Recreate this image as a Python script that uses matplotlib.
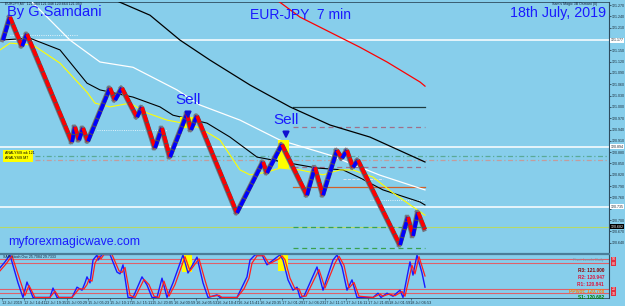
import matplotlib
matplotlib.use("Agg")
import matplotlib.pyplot as plt
from matplotlib.lines import Line2D
from matplotlib.patches import Rectangle
import numpy as np

plt.rcParams['font.family'] = ['Liberation Sans', 'DejaVu Sans']

BG = '#87ceeb'
TXT = '#1a1aff'

# swing points of the price path (bar, price)
swing_bar = [3, 10, 22, 27, 72, 75, 79, 83, 88, 110, 115, 122, 137, 142, 155, 162, 170,
             187, 191, 197, 237, 263, 267, 282, 307, 315, 323, 337, 342, 347, 353, 358,
             400, 408, 413, 418, 425]
swing_price = [121.177, 121.238, 121.161, 121.193, 120.907, 120.947, 120.912, 120.944,
               120.909, 121.050, 121.018, 121.050, 120.973, 120.999, 120.891, 120.944,
               120.867, 120.981, 120.939, 120.976, 120.719, 120.854, 120.825, 120.900,
               120.766, 120.840, 120.766, 120.885, 120.864, 120.885, 120.840, 120.859,
               120.634, 120.708, 120.658, 120.721, 120.675]

# moving averages
ma_red_bar = [268, 277, 300, 330, 360, 387, 420, 425]
ma_red = [121.296, 121.283, 121.238, 121.198, 121.158, 121.119, 121.066, 121.055]
ma_slow_bar = [105, 115, 150, 180, 210, 250, 290, 330, 370, 425]
ma_slow = [121.296, 121.283, 121.243, 121.177, 121.124, 121.058, 121.000, 120.952, 120.920, 120.854]
ma_white_bar = [30, 43, 70, 100, 133, 177, 200, 240, 280, 330, 380, 425]
ma_white = [121.283, 121.249, 121.177, 121.119, 121.105, 121.045, 121.005, 120.965, 120.912,
            120.872, 120.819, 120.780]
ma_fast_bar = [0, 30, 60, 87, 100, 133, 160, 173, 207, 230, 257, 283, 317, 343, 360, 383, 420, 425]
ma_fast = [121.177, 121.182, 121.151, 121.063, 121.045, 121.026, 121.000, 120.978, 120.957,
           120.920, 120.867, 120.854, 120.838, 120.833, 120.812, 120.780, 120.748, 120.740]
ma_yellow_bar = [0, 10, 33, 60, 87, 95, 110, 130, 147, 167, 183, 200, 220, 240, 250, 267, 280,
                 300, 323, 340, 353, 373, 393, 413, 425]
ma_yellow = [121.151, 121.169, 121.164, 121.116, 121.039, 121.010, 121.000, 121.010, 120.984,
             120.965, 120.957, 120.944, 120.912, 120.833, 120.820, 120.827, 120.838, 120.833,
             120.820, 120.833, 120.833, 120.814, 120.772, 120.735, 120.713]

# horizontal levels
white_levels = [121.177, 120.894, 120.735]
current_price = 120.682
zone_upper = 120.870
zone_lower = 120.859
pivot_names = ['R3', 'R2', 'R1', 'PPivot', 'S1']
pivot_values = [121.000, 120.947, 120.841, 120.788, 120.682]
s2_value = 120.626
pivot_start = 293
last_bar = 425

# sell signals
sell_bar = [188, 286]
sell_price = [120.997, 120.944]
sell_box_bar = [(180, 195), (278, 289)]
sell_box_price = [(120.944, 120.973), (120.838, 120.912)]

# stochastic oscillator
osc_k_bar = [0, 5, 10, 18, 23, 27, 33, 50, 53, 57, 72, 77, 82, 85, 87, 90, 93, 97, 98, 102, 110,
             117, 120, 123, 128, 133, 142, 147, 152, 157, 162, 167, 173, 183, 188, 197, 203, 208,
             217, 220, 237, 242, 247, 250, 255, 262, 267, 277, 280, 283, 288, 293, 297, 300, 304,
             317, 323, 333, 337, 342, 347, 352, 357, 373, 378, 381, 387, 393, 400, 403, 410, 413,
             417, 422, 425]
osc_k = [69, 83, 99, 34, 0, 36, 0, 0, 22, 0, 0, 24, 17, 34, 48, 34, 87, 99, 87, 100, 100,
         59, 55, 76, 0, 0, 48, 29, 0, 0, 45, 0, 34, 99, 57, 94, 34, 0,
         6, 0, 0, 24, 48, 87, 99, 99, 76, 94, 99, 87, 41, 17, 24, 0, 3,
         71, 17, 87, 99, 71, 17, 41, 0, 0, 10, 0, 10, 3, 17, 0, 83, 52,
         99, 57, 24]
osc_d_bar = [0, 6, 12, 20, 25, 29, 35, 50, 55, 59, 72, 79, 84, 87, 89, 92, 95, 99, 101, 104, 112,
             119, 122, 125, 130, 135, 144, 149, 154, 159, 164, 169, 175, 185, 190, 199, 205, 210,
             219, 222, 237, 244, 249, 252, 257, 264, 269, 279, 282, 285, 290, 295, 299, 302, 306,
             319, 325, 335, 339, 344, 349, 354, 359, 373, 380, 383, 389, 395, 402, 405, 412, 415,
             419, 425]
osc_d = [62, 78, 97, 40, 5, 28, 0, 0, 15, 0, 0, 20, 20, 30, 42, 38, 80, 97, 90, 100, 100,
         62, 58, 70, 5, 0, 42, 30, 3, 0, 38, 3, 30, 95, 62, 90, 40, 2,
         5, 0, 0, 20, 45, 80, 97, 97, 78, 90, 97, 88, 45, 20, 20, 3, 3,
         65, 22, 80, 96, 75, 22, 35, 3, 0, 8, 3, 8, 4, 14, 3, 75, 55,
         95, 50]
osc_levels = [90, 80, 20, 10]
osc_box_bar = [(182, 192), (278, 288)]
osc_box_val = [(59, 99), (61, 99)]

price_ticks = np.round(121.270 - 0.030 * np.arange(22), 3)
date_labels = ['12 Jul 2019', '12 Jul 14:41', '12 Jul 19:35', '15 Jul 00:29', '15 Jul 05:23',
               '15 Jul 10:17', '15 Jul 15:11', '15 Jul 20:05', '16 Jul 00:59', '16 Jul 05:53',
               '16 Jul 10:47', '16 Jul 15:41', '16 Jul 20:35', '17 Jul 01:29', '17 Jul 06:23',
               '17 Jul 11:17', '17 Jul 16:11', '17 Jul 21:05', '18 Jul 01:59', '18 Jul 06:53']

fig = plt.figure(figsize=(6.25, 3.06), dpi=100, facecolor=BG)
ax = fig.add_axes([0, 53 / 306, 609 / 625, 251 / 306], facecolor=BG)
osc = fig.add_axes([0, 8 / 306, 609 / 625, 44 / 306], facecolor=BG)

ax.set_xlim(0, 609)
ax.set_ylim(120.6128, 121.278)
osc.set_xlim(0, 609)
osc.set_ylim(-1.2, 101.2)

# --- main panel ---
for lv in white_levels:
    ax.axhline(lv, color='white', lw=1.1, zorder=2)
ax.axhline(current_price, color='#b5d96a', lw=0.8, zorder=2)
ax.plot([35, 609], [zone_upper] * 2, color='#5aaa98', lw=0.9, ls=(0, (4, 2, 1, 2)), zorder=2)
ax.plot([35, 609], [zone_lower] * 2, color='#c49c9c', lw=0.9, ls=(0, (4, 2, 1, 2)), zorder=2)
ax.plot([10, 78], [121.190] * 2, color='white', lw=0.6, ls=':', zorder=2)
ax.plot([97, 167], [120.939] * 2, color='white', lw=0.6, ls=':', zorder=2)
ax.plot([343, 383], [120.809] * 2, color='#e8e8f0', lw=0.6, ls='--', zorder=2)
ax.plot([370, 425], [120.753] * 2, color='white', lw=0.6, ls=':', zorder=2)

piv_style = {'R3': ('#1e3a40', '-'), 'R2': ('#a0708a', (0, (4, 3))),
             'R1': ('#a0708a', (0, (4, 3))), 'PPivot': ('#d2602a', '-'),
             'S1': ('#3aa050', (0, (4, 3)))}
for name, val in zip(pivot_names, pivot_values):
    c, ls = piv_style[name]
    ax.plot([pivot_start, last_bar], [val, val], color=c, lw=0.9, ls=ls, zorder=3)
ax.plot([pivot_start, last_bar], [s2_value] * 2, color='#3aa050', lw=0.9, ls=(0, (4, 3)), zorder=3)

ax.plot(ma_red_bar, ma_red, color='#ff0000', lw=0.9, zorder=4)
ax.plot(ma_slow_bar, ma_slow, color='black', lw=0.9, zorder=4)
ax.plot(ma_white_bar, ma_white, color='white', lw=0.9, zorder=4)
ax.plot(ma_fast_bar, ma_fast, color='black', lw=0.8, zorder=4)
ax.plot(ma_yellow_bar, ma_yellow, color='#ffff00', lw=0.8, zorder=4)

for (b0, b1), (p0, p1) in zip(sell_box_bar, sell_box_price):
    ax.add_patch(Rectangle((b0, p0), b1 - b0, p1 - p0, color='#ffff00', zorder=4.5, lw=0))

for i in range(len(swing_bar) - 1):
    xs = swing_bar[i:i + 2]
    ys = swing_price[i:i + 2]
    col = '#0000ff' if ys[1] > ys[0] else '#ff0000'
    ax.plot([x - 1.0 for x in xs], ys, color='#74747e', lw=3.0, solid_capstyle='projecting',
            zorder=5)
    ax.plot(xs, ys, color='#505058', lw=3.1, solid_capstyle='butt', zorder=5.5)
    ax.plot(xs, ys, color=col, lw=2.6, ls=(0, (2.0, 0.3)), dash_capstyle='butt', zorder=6)

for b, p in zip(sell_bar, sell_price):
    ax.text(b, p + 0.003, 'Sell', color=TXT, fontsize=11, ha='center', va='bottom', zorder=8)
    ax.annotate('', xy=(b, p - 0.036), xytext=(b, p - 0.004),
                arrowprops=dict(arrowstyle='-|>', color='#1010d0', lw=1.5,
                                mutation_scale=9), zorder=8)

ax.add_patch(Rectangle((3, 120.854), 30, 0.032, color='#ffff00', zorder=6, lw=0))
ax.text(5, 120.878, 'ANALYSIS wk 121', fontsize=2.6, color='black', va='center', zorder=7)
ax.text(5, 120.864, 'ANALYSIS M7', fontsize=2.6, color='black', va='center', zorder=7)

# price scale, with the boxed labels taking the place of nearby ticks
special = white_levels + [current_price]
ax.yaxis.tick_right()
ax.set_yticks(price_ticks)
ax.set_yticklabels(['' if min(abs(t - s) for s in special) < 0.012 else f'{t:.3f}'
                    for t in price_ticks])
ax.tick_params(axis='y', labelsize=2.6, colors='#1b2b38', length=1.5, width=0.5, pad=0.5)
ax.set_xticks([])
for s in ['left', 'bottom']:
    ax.spines[s].set_visible(False)
ax.spines['right'].set_color('#2d4b5e')
ax.spines['right'].set_linewidth(0.8)
ax.spines['top'].set_color('#2d4b5e')
ax.spines['top'].set_linewidth(0.6)

ytr = ax.get_yaxis_transform()
for lv in white_levels:
    ax.text(1.003, lv, f'{lv:.3f}', transform=ytr, fontsize=2.6, color='#1b2b38', va='center',
            ha='left', clip_on=False, zorder=9,
            bbox=dict(boxstyle='square,pad=0.12', fc='white', ec='none'))
ax.text(1.003, current_price, f'{current_price:.3f}', transform=ytr, fontsize=2.6, color='white',
        va='center', ha='left', clip_on=False, zorder=9,
        bbox=dict(boxstyle='square,pad=0.12', fc='black', ec='none'))

# --- oscillator panel ---
for lv in osc_levels:
    osc.axhline(lv, color='#e0606a', lw=0.8, zorder=2)
for (b0, b1), (v0, v1) in zip(osc_box_bar, osc_box_val):
    osc.add_patch(Rectangle((b0, v0), b1 - b0, v1 - v0, color='#ffff00', zorder=3, lw=0))
osc.plot(osc_k_bar, osc_k, color='#1a1aff', lw=1.0, zorder=4)
osc.plot(osc_d_bar, osc_d, color='#ff2020', lw=0.9, zorder=5)

osc.yaxis.tick_right()
osc.set_yticks(osc_levels)
osc.set_yticklabels(['90', '80', '20', '10'])
osc.tick_params(axis='y', labelsize=2.6, colors='white', length=0, pad=2)
for lbl in osc.get_yticklabels():
    lbl.set_bbox(dict(boxstyle='square,pad=0.12', fc='#e03040', ec='none'))
osc.set_xticks(2 + 21.5 * np.arange(len(date_labels)))
osc.set_xticklabels(date_labels, ha='left')
osc.tick_params(axis='x', labelsize=2.8, colors='#1b2b38', length=1.5, width=0.4, pad=1)
osc.spines['left'].set_visible(False)
osc.spines['top'].set_visible(False)
osc.spines['right'].set_color('#2d4b5e')
osc.spines['right'].set_linewidth(0.8)
osc.spines['bottom'].set_color('#2d4b5e')
osc.spines['bottom'].set_linewidth(0.6)

# panel separator
fig.add_artist(Line2D([0, 609 / 625], [52.5 / 306] * 2, color='#4b7d99', lw=1.6))

# pivot labels
piv_colors = ['#8b0000', '#dc143c', '#dc143c', '#ff7f00', '#008000']
osc.text(604, 87, 'Pivot Levels Daily', fontsize=2.8, color='#8090a0', ha='right',
         va='center', zorder=6)
for k, (name, val) in enumerate(zip(pivot_names, pivot_values)):
    osc.text(604, 63 - k * 16, f'{name}: {val:.3f}', fontsize=3.4, color=piv_colors[k],
             ha='right', va='center', zorder=6, fontweight='bold')

# titles and small labels
fig.text(7 / 625, 1 - 5 / 306, 'By G.Samdani', color=TXT, fontsize=10.5, va='top', ha='left')
fig.text(301 / 625, 1 - 8 / 306, 'EUR-JPY  7 min', color=TXT, fontsize=10, va='top', ha='center')
fig.text(606 / 625, 1 - 6 / 306, '18th July, 2019', color=TXT, fontsize=10.3, va='top', ha='right')
fig.text(8 / 625, 1 - 248 / 306, 'myforexmagicwave.com', color=TXT, fontsize=8.8, va='bottom',
         ha='left')
fig.text(5 / 625, 1 - 2 / 306, 'EURJPY,M7  121.084 121.048 120.664 121.050', fontsize=2.6,
         color='#10203a', va='top', ha='left')
fig.text(597 / 625, 1 - 2 / 306, "Sam's Magic 3B Osmani (0)", fontsize=2.6, color='#10203a',
         va='top', ha='right')
fig.text(3 / 625, 1 - 255 / 306, 'SAR Stoch Osc 25.7084 29.7333', fontsize=2.6, color='#10203a',
         va='top', ha='left')

fig.savefig('out.png', dpi=100, facecolor=BG)
